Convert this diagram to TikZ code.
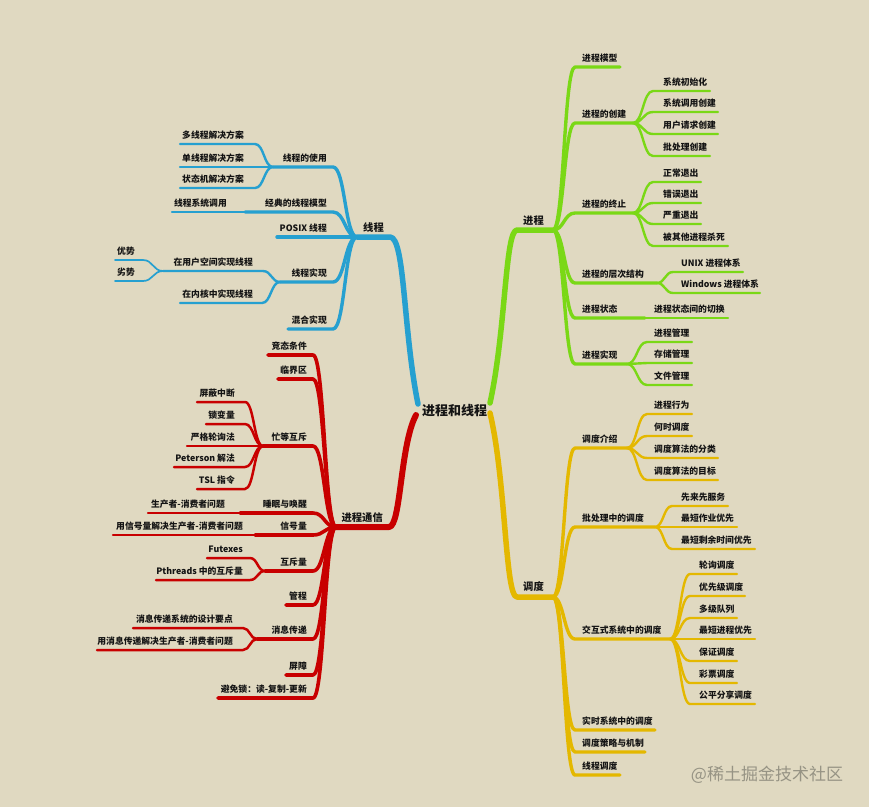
\documentclass[tikz,border=0pt]{standalone}
\usepackage{fontspec}
\setmainfont{Noto Sans CJK SC}
\usetikzlibrary{calc}
\definecolor{bg}{RGB}{224,217,193}
\definecolor{cb}{RGB}{38,160,208}
\definecolor{cr}{RGB}{200,0,0}
\definecolor{cg}{RGB}{122,216,22}
\definecolor{cy}{RGB}{228,184,0}
\definecolor{txt}{RGB}{20,20,20}
\definecolor{wmc}{RGB}{150,147,132}
\tikzset{
  lbl/.style={font=\bfseries\fontsize{8.8}{10}\selectfont, text=txt, inner sep=0pt},
  mlbl/.style={font=\bfseries\fontsize{10.3}{12}\selectfont, text=txt, inner sep=0pt},
  branch/.style={to path={let \p1=(\tikztostart), \p2=(\tikztotarget) in
      .. controls ({\x1+0.5*(\x2-\x1)},\y1) and ({\x1+0.5*(\x2-\x1)},\y2) .. (\tikztotarget)}},
  ln/.style={line cap=round, line join=round},
  Bm/.style={ln, draw=cb, line width=5.5pt},
  B1/.style={ln, draw=cb, line width=3.4pt},
  B2/.style={ln, draw=cb, line width=2.4pt},
  B3/.style={ln, draw=cb, line width=1.7pt},
  Rm/.style={ln, draw=cr, line width=6pt},
  R1/.style={ln, draw=cr, line width=3.6pt},
  R2/.style={ln, draw=cr, line width=2.5pt},
  Gm/.style={ln, draw=cg, line width=5.5pt},
  G1/.style={ln, draw=cg, line width=3.4pt},
  G2/.style={ln, draw=cg, line width=2.4pt},
  Ym/.style={ln, draw=cy, line width=5.5pt},
  Y1/.style={ln, draw=cy, line width=3.4pt},
  Y2/.style={ln, draw=cy, line width=2.4pt},
}
% left-side topic: name, near(right) x, far(left) x, y, text right x, text
\newcommand\TL[6]{\coordinate (#1-n) at (#2,#4); \coordinate (#1-f) at (#3,#4);
  \node[lbl,anchor=base east] (#1) at (#5,#4-5.5) {#6};}
% right-side topic: name, near(left) x, far(right) x, y, text left x, text
\newcommand\TR[6]{\coordinate (#1-n) at (#2,#4); \coordinate (#1-f) at (#3,#4);
  \node[lbl,anchor=base west] (#1) at (#5,#4-5.5) {#6};}
\newcommand\E[3]{\draw[#1] (#2) to[branch] (#3-n) -- (#3-f);}
\begin{document}
\begin{tikzpicture}[x=1pt,y=-1pt]
\fill[bg] (0,0) rectangle (869,807);
\useasboundingbox (0,0) rectangle (869,807);

% ---------------- root ----------------
\node[font=\bfseries\fontsize{13}{15}\selectfont, text=txt, inner sep=0pt] (root) at (454.5,411) {进程和线程};
\coordinate (o-b) at (418,404);
\coordinate (o-r) at (416,415);
\coordinate (o-g) at (490,403);
\coordinate (o-y) at (490,413);

% ---------------- blue: 线程 ----------------
\coordinate (bT-n) at (390,237); \coordinate (bT-f) at (357,237);
\node[mlbl,anchor=base east] (bT) at (384,231) {线程};
\TL{b1}{333}{273}{167}{327}{线程的使用}
\TL{b11}{255}{180}{144}{244}{多线程解决方案}
\TL{b12}{255}{180}{167}{244}{单线程解决方案}
\TL{b13}{255}{180}{188}{244}{状态机解决方案}
\TL{b2}{333}{245}{212}{327}{经典的线程模型}
\TL{b21}{240}{172}{212}{227}{线程系统调用}
\TL{b3}{345}{277}{237}{327}{POSIX 线程}
\TL{b4}{333}{280}{282}{327}{线程实现}
\TL{b41}{263}{163}{271}{253}{在用户空间实现线程}
\TL{b411}{143}{115}{260}{135}{优势}
\TL{b412}{143}{115}{281}{135}{劣势}
\TL{b42}{262}{180}{303}{253}{在内核中实现线程}
\TL{b5}{333}{288}{329}{327}{混合实现}

\draw[Bm] (o-b) .. controls (403,330) and (405,237) .. (bT-n) -- (bT-f);
\E{B1}{bT-f}{b1}
\E{B1}{bT-f}{b2}
\E{B1}{bT-f}{b3}
\E{B1}{bT-f}{b4}
\E{B1}{bT-f}{b5}
\E{B2}{b1-f}{b11}
\E{B2}{b1-f}{b12}
\E{B2}{b1-f}{b13}
\E{B2}{b2-f}{b21}
\E{B2}{b4-f}{b41}
\E{B2}{b4-f}{b42}
\E{B3}{b41-f}{b411}
\E{B3}{b41-f}{b412}

% ---------------- red: 进程通信 ----------------
\coordinate (rT-n) at (389,527); \coordinate (rT-f) at (336,527);
\node[mlbl,anchor=base east] (rT) at (383,521.5) {进程通信};
\TL{r1}{313}{268}{355}{307}{竞态条件}
\TL{r2}{313}{278}{379}{307}{临界区}
\TL{r3}{313}{263}{446}{307}{忙等互斥}
\TL{r31}{245}{197}{402}{235}{屏蔽中断}
\TL{r32}{245}{206}{424}{235}{锁变量}
\TL{r33}{245}{187}{446}{235}{严格轮询法}
\TL{r34}{245}{174}{467}{235}{Peterson 解法}
\TL{r35}{245}{197}{489}{235}{TSL 指令}
\TL{r4}{313}{240}{513}{307}{睡眠与唤醒}
\TL{r41}{236}{148}{513}{225}{生产者-消费者问题}
\TL{r5}{313}{255}{535}{307}{信号量}
\TL{r51}{250}{113}{535}{243}{用信号量解决生产者-消费者问题}
\TL{r6}{313}{265}{571}{307}{互斥量}
\TL{r61}{250}{207}{558}{243}{Futexes}
\TL{r62}{250}{156}{580}{243}{Pthreads 中的互斥量}
\TL{r7}{313}{286}{605}{307}{管程}
\TL{r8}{313}{257}{639}{307}{消息传递}
\TL{r81}{243}{133}{628}{233}{消息传递系统的设计要点}
\TL{r82}{243}{97}{650}{233}{用消息传递解决生产者-消费者问题}
\TL{r9}{313}{286}{675}{307}{屏障}
\TL{r10}{313}{218}{698}{307}{避免锁：读-复制-更新}

\draw[Rm] (o-r) .. controls (400,445) and (401,527) .. (rT-n) -- (rT-f);
\foreach \c in {r1,r2,r3,r4,r5,r6,r7,r8,r9,r10}{\E{R1}{rT-f}{\c}}
\foreach \c in {r31,r32,r33,r34,r35}{\E{R2}{r3-f}{\c}}
\E{R2}{r4-f}{r41}
\E{R2}{r5-f}{r51}
\E{R2}{r6-f}{r61}
\E{R2}{r6-f}{r62}
\E{R2}{r8-f}{r81}
\E{R2}{r8-f}{r82}

% ---------------- green: 进程 ----------------
\coordinate (gT-n) at (517,230); \coordinate (gT-f) at (553,230);
\node[mlbl,anchor=base west] (gT) at (523,224) {进程};
\TR{g1}{575}{620}{67}{582}{进程模型}
\TR{g2}{575}{633}{123}{582}{进程的创建}
\TR{g21}{653}{710}{91}{663}{系统初始化}
\TR{g22}{653}{718}{112}{663}{系统调用创建}
\TR{g23}{653}{718}{134}{663}{用户请求创建}
\TR{g24}{653}{710}{156}{663}{批处理创建}
\TR{g3}{575}{633}{213}{582}{进程的终止}
\TR{g31}{653}{701}{182}{663}{正常退出}
\TR{g32}{653}{701}{203}{663}{错误退出}
\TR{g33}{653}{701}{224}{663}{严重退出}
\TR{g34}{653}{728}{246}{663}{被其他进程杀死}
\TR{g4}{575}{657}{283}{582}{进程的层次结构}
\TR{g41}{673}{743}{272}{681}{UNIX 进程体系}
\TR{g42}{673}{760}{293}{681}{Windows 进程体系}
\TR{g5}{575}{645}{318}{582}{进程状态}
\TR{g51}{648}{728}{318}{654}{进程状态间的切换}
\TR{g6}{575}{627}{364}{582}{进程实现}
\TR{g61}{647}{692}{342}{654}{进程管理}
\TR{g62}{647}{692}{363}{654}{存储管理}
\TR{g63}{647}{692}{385}{654}{文件管理}

\draw[Gm] (o-g) .. controls (506,330) and (505,230) .. (gT-n) -- (gT-f);
\foreach \c in {g1,g2,g3,g4,g5,g6}{\E{G1}{gT-f}{\c}}
\foreach \c in {g21,g22,g23,g24}{\E{G2}{g2-f}{\c}}
\foreach \c in {g31,g32,g33,g34}{\E{G2}{g3-f}{\c}}
\E{G2}{g4-f}{g41}
\E{G2}{g4-f}{g42}
\E{G2}{g5-f}{g51}
\foreach \c in {g61,g62,g63}{\E{G2}{g6-f}{\c}}

% ---------------- yellow: 调度 ----------------
\coordinate (yT-n) at (517,597); \coordinate (yT-f) at (553,597);
\node[mlbl,anchor=base west] (yT) at (523,590.5) {调度};
\TR{y1}{575}{627}{448}{582}{调度介绍}
\TR{y11}{647}{692}{414}{654}{进程行为}
\TR{y12}{647}{692}{436}{654}{何时调度}
\TR{y13}{647}{718}{458}{654}{调度算法的分类}
\TR{y14}{647}{718}{480}{654}{调度算法的目标}
\TR{y2}{575}{655}{527}{582}{批处理中的调度}
\TR{y21}{672}{728}{506}{681}{先来先服务}
\TR{y22}{672}{737}{527}{681}{最短作业优先}
\TR{y23}{672}{755}{549}{681}{最短剩余时间优先}
\TR{y3}{575}{670}{639}{582}{交互式系统中的调度}
\TR{y31}{690}{737}{574}{699}{轮询调度}
\TR{y32}{690}{745}{596}{699}{优先级调度}
\TR{y33}{690}{737}{618}{699}{多级队列}
\TR{y34}{690}{755}{639}{699}{最短进程优先}
\TR{y35}{690}{737}{661}{699}{保证调度}
\TR{y36}{690}{737}{683}{699}{彩票调度}
\TR{y37}{690}{755}{704}{699}{公平分享调度}
\TR{y4}{575}{655}{730}{582}{实时系统中的调度}
\TR{y5}{575}{645}{752}{582}{调度策略与机制}
\TR{y6}{575}{620}{775}{582}{线程调度}

\draw[Ym] (o-y) .. controls (506,480) and (505,597) .. (yT-n) -- (yT-f);
\foreach \c in {y1,y2,y3,y4,y5,y6}{\E{Y1}{yT-f}{\c}}
\foreach \c in {y11,y12,y13,y14}{\E{Y2}{y1-f}{\c}}
\foreach \c in {y21,y22,y23}{\E{Y2}{y2-f}{\c}}
\foreach \c in {y31,y32,y33,y34,y35,y36,y37}{\E{Y2}{y3-f}{\c}}

% watermark
\node[font=\fontsize{17}{19}\selectfont, text=wmc, inner sep=0pt] (wm) at (767,775) {@稀土掘金技术社区};
\end{tikzpicture}
\end{document}
